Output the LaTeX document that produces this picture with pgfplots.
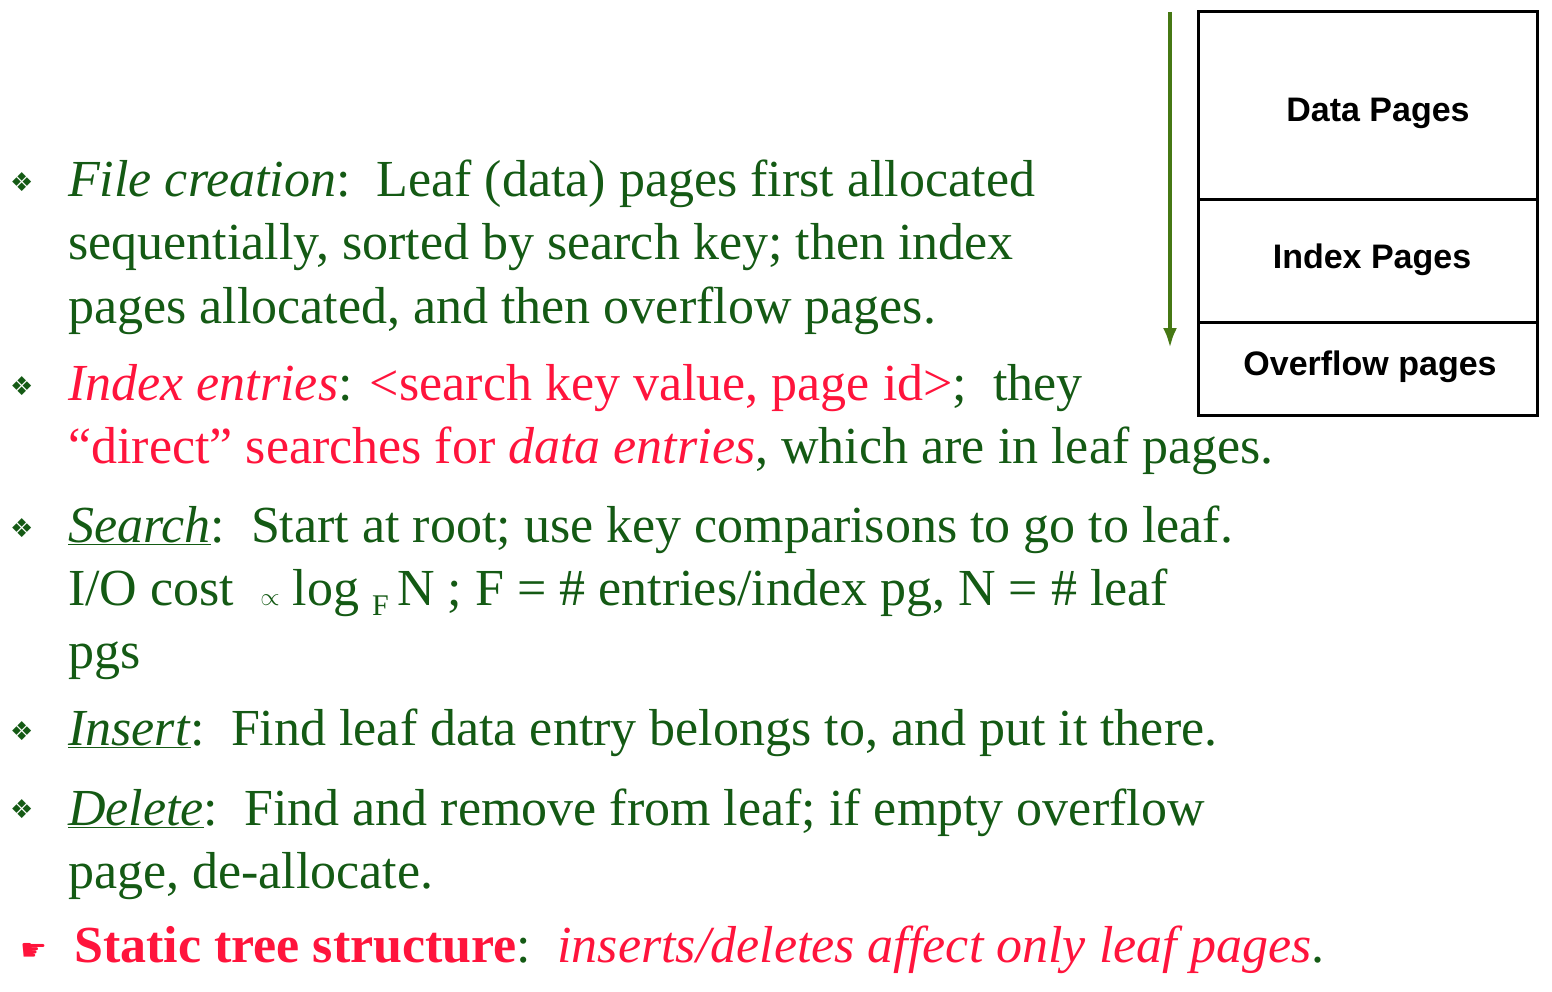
\documentclass[border=0pt]{standalone}
\usepackage{pgfplots}
\pgfplotsset{compat=1.18}
\usetikzlibrary{arrows.meta}
\usepackage{fontspec}
\setmainfont{Liberation Serif}
\newfontfamily\sym{DejaVu Sans}
\newfontfamily\arial{Liberation Sans}
\definecolor{tg}{RGB}{20,90,20}
\definecolor{tr}{RGB}{255,20,60}
\definecolor{ag}{RGB}{70,120,20}
\begin{document}
\begin{tikzpicture}
\begin{axis}[width=1552pt,height=992pt,scale only axis,xmin=0,xmax=1552,ymin=0,ymax=992,y dir=reverse,axis lines=none,clip=false]
\addplot[draw=none] coordinates {(0,0) (1552,992)};
\newcommand{\T}[3]{\node[anchor=base west,inner sep=0pt,font=\fontsize{52}{60}\selectfont,text=tg] at (axis cs:#1,#2) {#3};}
\newcommand{\B}[1]{\node[anchor=base west,inner sep=0pt,font=\sym\fontsize{26}{30}\selectfont,text=tg] at (axis cs:10,#1) {❖};}
\B{192}\B{395}\B{537}\B{740}\B{818}
\T{68}{197}{\textit{File creation}:\ \ Leaf (data) pages first allocated}
\T{68}{260}{sequentially, sorted by search key; then index}
\T{68}{323}{pages allocated, and then overflow pages.}
\T{68}{400}{\textcolor{tr}{\textit{Index entries}}: \textcolor{tr}{<search key value, page id>};\ \ they}
\T{68}{463}{\textcolor{tr}{“direct” searches for \textit{data entries}}, which are in leaf pages.}
\T{68}{542}{\underline{\textit{Search}}:\ \ Start at root; use key comparisons to go to leaf.}
\T{68}{605}{I/O cost \ $\propto$ log {\fontsize{30}{30}\selectfont\raisebox{-10pt}{F}}\,N ; F = \# entries/index pg, N = \# leaf}
\T{68}{668}{pgs}
\T{68}{745}{\underline{\textit{Insert}}:\ \ Find leaf data entry belongs to, and put it there.}
\T{68}{825}{\underline{\textit{Delete}}:\ \ Find and remove from leaf; if empty overflow}
\T{68}{888}{page, de-allocate.}
\node[anchor=base west,inner sep=0pt,font=\sym\fontsize{30}{30}\selectfont,text=tr] at (axis cs:20,960) {☛};
\T{74}{962}{\textcolor{tr}{\textbf{Static tree structure}}:\ \ \textcolor{tr}{\textit{inserts/deletes affect only leaf pages}}.}
\draw[line width=3pt] (axis cs:1198,12) rectangle (axis cs:1537,415);
\draw[line width=3pt] (axis cs:1198,200) -- (axis cs:1537,200);
\draw[line width=3pt] (axis cs:1198,322) -- (axis cs:1537,322);
\draw[ag,line width=4pt,-{Latex[length=20pt,width=14pt]}] (axis cs:1170,12) -- (axis cs:1170,348);
\node[font=\arial\bfseries\fontsize{34}{40}\selectfont] at (axis cs:1378,113) {Data Pages};
\node[font=\arial\bfseries\fontsize{34}{40}\selectfont] at (axis cs:1372,260) {Index Pages};
\node[font=\arial\bfseries\fontsize{34}{40}\selectfont] at (axis cs:1370,367) {Overflow pages};
\end{axis}
\end{tikzpicture}
\end{document}
